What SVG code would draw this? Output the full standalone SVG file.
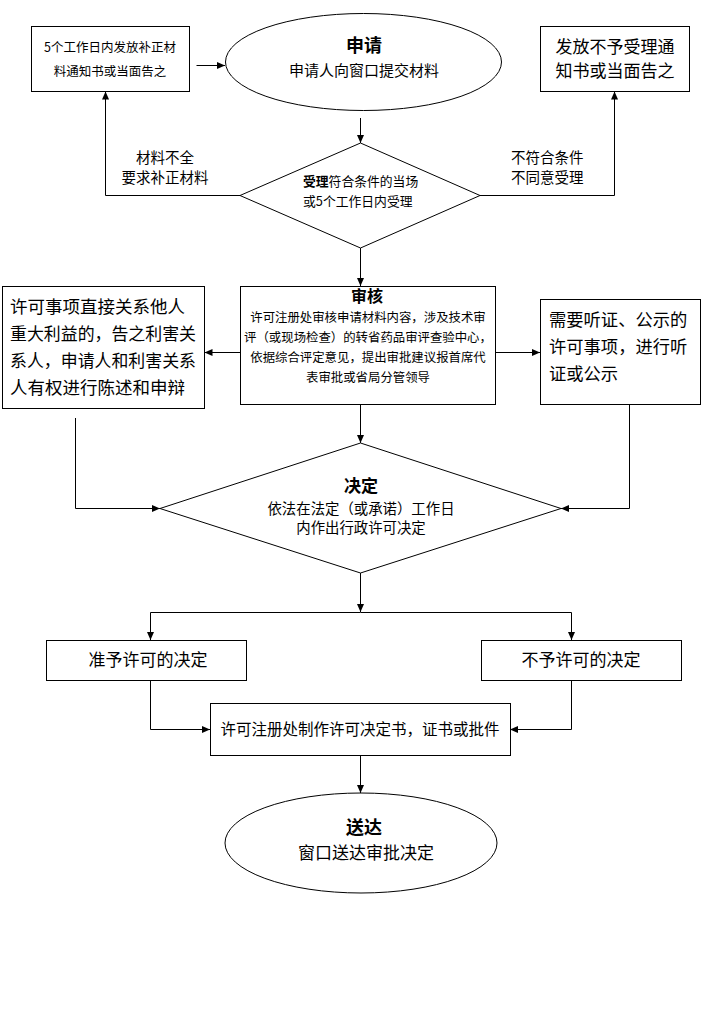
<svg xmlns="http://www.w3.org/2000/svg" width="705" height="1029" viewBox="0 0 705 1029">
<style>
.s{fill:#fff;stroke:#000;stroke-width:1}
.c{fill:none;stroke:#000;stroke-width:1;marker-end:url(#a)}
text{font-family:"Noto Sans CJK SC","Noto Sans",sans-serif;fill:#000}
.m{text-anchor:middle}
.b{font-weight:bold}
</style>
<defs>
<marker id="a" markerUnits="userSpaceOnUse" markerWidth="9" markerHeight="8" refX="8" refY="4" orient="auto"><path d="M0,0.5 L8,4 L0,7.5 z" fill="#000"/></marker>
</defs>
<rect width="705" height="1029" fill="#fff"/>
<g id="connectors">
<path class="c" d="M196.5,65.5 H225"/>
<path class="c" d="M360.5,118 V143"/>
<path class="c" d="M240,195.5 H105.5 V91.5"/>
<path class="c" d="M480,195.5 H614.5 V91.5"/>
<path class="c" d="M360.5,248 V286"/>
<path class="c" d="M240,352.5 H204.5"/>
<path class="c" d="M496,352.5 H540"/>
<path class="c" d="M75.5,418 V508.5 H160"/>
<path class="c" d="M629.5,404 V508.5 H561"/>
<path class="c" d="M360.5,404 V443"/>
<path class="c" d="M360.5,573 V612"/>
<path class="c" d="M360.5,612.5 H150.5 V640"/>
<path class="c" d="M360.5,612.5 H571.5 V640"/>
<path class="c" d="M150.5,680 V729.5 H210"/>
<path class="c" d="M571.5,680 V729.5 H510"/>
<path class="c" d="M360.5,755 V793"/>
</g>
<g id="n_notify_fix">
<rect class="s" x="31.5" y="26.5" width="158" height="65"/>
<text class="m" x="110" y="52" font-size="12.5">5个工作日内发放补正材</text>
<text class="m" x="110" y="76" font-size="12.5">料通知书或当面告之</text>
</g>
<g id="n_apply">
<ellipse class="s" cx="363.5" cy="62" rx="138" ry="48.5"/>
<text class="m b" x="364" y="52" font-size="18">申请</text>
<text class="m" x="364" y="76" font-size="15">申请人向窗口提交材料</text>
</g>
<g id="n_reject">
<rect class="s" x="540.5" y="26.5" width="149" height="65"/>
<text class="m" x="615" y="53" font-size="17">发放不予受理通</text>
<text class="m" x="615" y="77" font-size="17">知书或当面告之</text>
</g>
<g id="n_accept">
<path class="s" d="M360.5,143 L480,195.5 L360.5,248 L240,195.5 z"/>
<text x="303" y="186" font-size="12.8"><tspan class="b">受理</tspan>符合条件的当场</text>
<text x="303" y="206" font-size="12.8">或5个工作日内受理</text>
</g>
<g id="l_incomplete">
<text class="m" x="165" y="163" font-size="14.5">材料不全</text>
<text class="m" x="165" y="183" font-size="14.5">要求补正材料</text>
</g>
<g id="l_noncompliant">
<text x="511" y="163" font-size="14.5">不符合条件</text>
<text x="511" y="183" font-size="14.5">不同意受理</text>
</g>
<g id="n_review">
<rect class="s" x="240.5" y="286.5" width="255" height="118"/>
<text class="m b" x="367" y="302" font-size="16">审核</text>
<text class="m" x="368" y="322" font-size="12.4">许可注册处审核申请材料内容，涉及技术审</text>
<text class="m" x="368" y="342" font-size="12.4">评（或现场检查）的转省药品审评查验中心，</text>
<text class="m" x="368" y="362" font-size="12.4">依据综合评定意见，提出审批建议报首席代</text>
<text class="m" x="368" y="382" font-size="12.4">表审批或省局分管领导</text>
</g>
<g id="n_stakeholder">
<rect class="s" x="2.5" y="286.5" width="202" height="122"/>
<text x="10" y="313" font-size="17.5">许可事项直接关系他人</text>
<text x="10" y="340" font-size="17.5" textLength="186" lengthAdjust="spacingAndGlyphs">重大利益的，告之利害关</text>
<text x="10" y="367" font-size="17.5" textLength="186" lengthAdjust="spacingAndGlyphs">系人，申请人和利害关系</text>
<text x="10" y="394" font-size="17.5">人有权进行陈述和申辩</text>
</g>
<g id="n_hearing">
<rect class="s" x="540.5" y="299.5" width="160" height="105"/>
<text x="549" y="326" font-size="17.3">需要听证、公示的</text>
<text x="549" y="353" font-size="17.3">许可事项，进行听</text>
<text x="549" y="380" font-size="17.3">证或公示</text>
</g>
<g id="n_decide">
<path class="s" d="M360.5,443 L561,508.5 L360.5,573 L160,508.5 z"/>
<text class="m b" x="361" y="492" font-size="17">决定</text>
<text class="m" x="361" y="514" font-size="14.4">依法在法定（或承诺）工作日</text>
<text class="m" x="361" y="533" font-size="14.4">内作出行政许可决定</text>
</g>
<g id="n_grant">
<rect class="s" x="46.5" y="640.5" width="200" height="40"/>
<text class="m" x="148" y="666" font-size="17">准予许可的决定</text>
</g>
<g id="n_deny">
<rect class="s" x="481.5" y="640.5" width="200" height="40"/>
<text class="m" x="581" y="666" font-size="17">不予许可的决定</text>
</g>
<g id="n_make">
<rect class="s" x="210.5" y="703.5" width="300" height="52"/>
<text class="m" x="360" y="735" font-size="15.5">许可注册处制作许可决定书，证书或批件</text>
</g>
<g id="n_deliver">
<ellipse class="s" cx="361" cy="843" rx="136" ry="50"/>
<text class="m b" x="364" y="834" font-size="18">送达</text>
<text class="m" x="366" y="859" font-size="17">窗口送达审批决定</text>
</g>
</svg>
